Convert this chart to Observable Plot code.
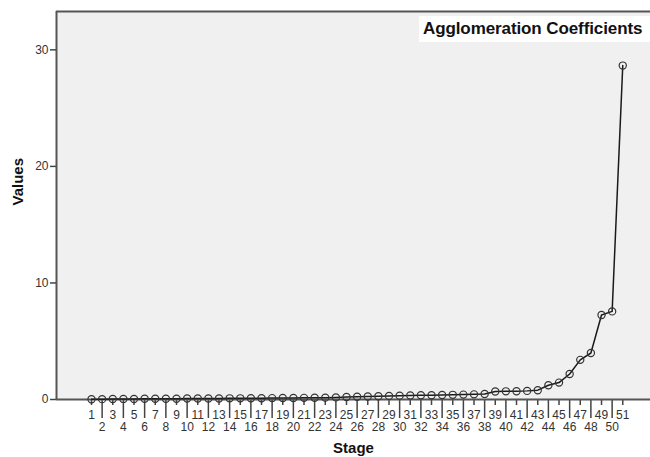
<!DOCTYPE html>
<html>
<head>
<meta charset="utf-8">
<script src="https://cdn.jsdelivr.net/npm/d3@7"></script>
<script src="https://cdn.jsdelivr.net/npm/@observablehq/plot@0.6"></script>
<style>
  html, body { margin: 0; padding: 0; background: #fff; }
  #wrap { position: relative; width: 650px; height: 457px; overflow: hidden; }
  #title { position: absolute; left: 419px; top: 16px; width: 231px; height: 26px; background: #fff;
    font-family: "Liberation Sans", Arial, sans-serif; font-size: 17px; font-weight: bold; color: #111;
    line-height: 26px; padding-left: 4px; box-sizing: border-box; white-space: nowrap; letter-spacing: -0.1px; }
</style>
</head>
<body>
<div id="wrap"><div id="title">Agglomeration Coefficients</div></div>
<script>
const stages = d3.range(1, 52);
const values = [
  0.02, 0.03, 0.04, 0.05, 0.05, 0.06, 0.06, 0.07, 0.07, 0.08,
  0.08, 0.09, 0.09, 0.10, 0.10, 0.11, 0.11, 0.12, 0.13, 0.13,
  0.14, 0.15, 0.16, 0.18, 0.21, 0.23, 0.26, 0.28, 0.31, 0.33,
  0.35, 0.36, 0.37, 0.39, 0.40, 0.42, 0.44, 0.48, 0.69, 0.70,
  0.71, 0.74, 0.80, 1.22, 1.45, 2.19, 3.40, 3.99, 7.25, 7.56,
  28.65
];
const yTicks = [0, 10, 20, 30];
const oddStages = stages.filter(s => s % 2 === 1);
const evenStages = stages.filter(s => s % 2 === 0);
const data = stages.map((s, i) => ({stage: s, value: values[i]}));

const xDomain = [-2.294, 53.61];
const yDomain = [0, 33.29];

const chart = Plot.plot({
  width: 650,
  height: 457,
  marginLeft: 56,
  marginRight: 0,
  marginTop: 11,
  marginBottom: 58,
  style: {fontFamily: "'Liberation Sans', Arial, sans-serif", fontSize: "12px", color: "#333", background: "transparent"},
  x: {domain: xDomain, axis: null},
  y: {domain: yDomain, axis: null},
  marks: [
    Plot.frame({fill: "#f0f0f0", stroke: null}),
    Plot.ruleX([xDomain[0]], {stroke: "#555", strokeWidth: 2}),
    Plot.ruleY([yDomain[1]], {stroke: "#555", strokeWidth: 2}),
    Plot.axisY({ticks: yTicks, tickSize: 6, tickPadding: 2, tickFormat: d => String(d), fontSize: 12, stroke: "#444", strokeWidth: 1.5, label: null}),
    Plot.axisX({ticks: oddStages, tickSize: 6, tickPadding: 5, tickFormat: d => String(d), fontSize: 12, stroke: "#444", strokeWidth: 1.5, label: null}),
    Plot.axisX({ticks: evenStages, tickSize: 19, tickPadding: 4, tickFormat: d => String(d), fontSize: 12, stroke: "#444", strokeWidth: 1.5, label: null}),
    Plot.ruleY([0], {stroke: "#555", strokeWidth: 2}),
    Plot.line(data, {x: "stage", y: "value", stroke: "#1a1a1a", strokeWidth: 1.5}),
    Plot.dot(data, {x: "stage", y: "value", r: 3.6, stroke: "#333", strokeWidth: 1.2, fill: "none"}),
    Plot.text(["Stage"], {frameAnchor: "bottom", dy: 53, fontSize: 15, fontWeight: "bold", fill: "#111"}),
    Plot.text(["Values"], {frameAnchor: "left", dx: -38, rotate: -90, fontSize: 15, fontWeight: "bold", fill: "#111"})
  ]
});
const wrap = document.getElementById("wrap");
chart.style.position = "absolute";
chart.style.left = "0px";
chart.style.top = "0px";
wrap.insertBefore(chart, wrap.firstChild);
</script>
</body>
</html>
